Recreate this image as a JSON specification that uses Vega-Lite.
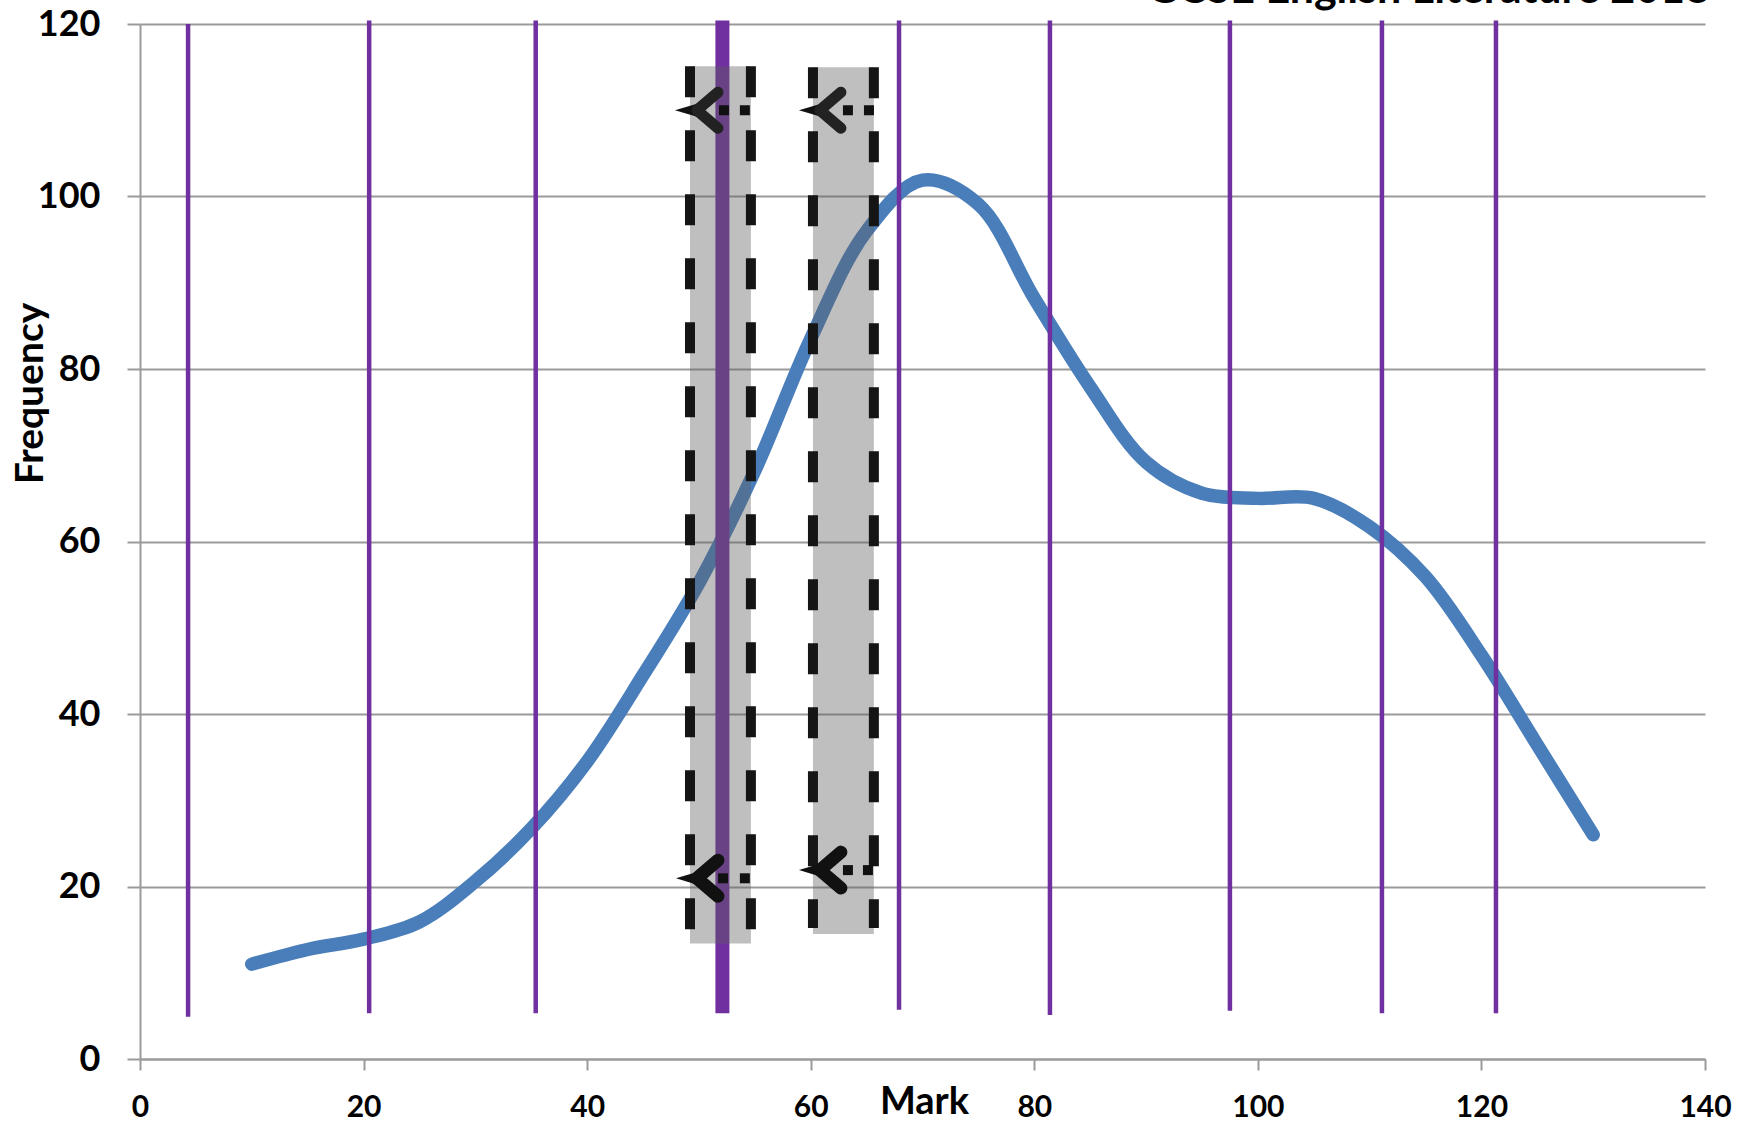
{
  "$schema": "https://vega.github.io/schema/vega-lite/v6.json",
  "width": 1565,
  "height": 1035,
  "autosize": {"type": "none"},
  "padding": {"left": 140, "top": 24, "right": 49, "bottom": 63},
  "background": "white",
  "title": {"text": "GCSE English Literature 2018", "anchor": "end", "frame": "group", "font": "Lato", "fontSize": 43, "fontWeight": "bold", "color": "#000000", "baseline": "alphabetic", "offset": 0, "dy": 40, "dx": 5},
  "config": {"view": {"stroke": null}},
  "datasets": {
    "curve": [
      {"mark": 10, "freq": 11.0},
      {"mark": 15, "freq": 12.7},
      {"mark": 20, "freq": 13.9},
      {"mark": 25, "freq": 15.9},
      {"mark": 30, "freq": 20.6},
      {"mark": 35, "freq": 26.7},
      {"mark": 40, "freq": 34.5},
      {"mark": 45, "freq": 44.5},
      {"mark": 50, "freq": 55.2},
      {"mark": 55, "freq": 68.2},
      {"mark": 60, "freq": 83.5},
      {"mark": 65, "freq": 96.0},
      {"mark": 70, "freq": 101.9},
      {"mark": 75, "freq": 99.1},
      {"mark": 80, "freq": 88.2},
      {"mark": 85, "freq": 77.9},
      {"mark": 90, "freq": 69.2},
      {"mark": 95, "freq": 65.6},
      {"mark": 100, "freq": 65.0},
      {"mark": 105, "freq": 65.0},
      {"mark": 110, "freq": 61.7},
      {"mark": 115, "freq": 55.9},
      {"mark": 120, "freq": 46.8},
      {"mark": 125, "freq": 36.4},
      {"mark": 130, "freq": 26.0}
    ],
    "lines": [
      {"x": 4.3, "y1": 4.9, "y2": 120.0, "kind": "thin"},
      {"x": 20.5, "y1": 5.3, "y2": 120.4, "kind": "thin"},
      {"x": 35.4, "y1": 5.3, "y2": 120.4, "kind": "thin"},
      {"x": 52.1, "y1": 5.3, "y2": 120.4, "kind": "thick"},
      {"x": 67.9, "y1": 5.7, "y2": 120.4, "kind": "thin"},
      {"x": 81.4, "y1": 5.1, "y2": 120.4, "kind": "thin"},
      {"x": 97.5, "y1": 5.6, "y2": 120.4, "kind": "thin"},
      {"x": 111.1, "y1": 5.3, "y2": 120.4, "kind": "thin"},
      {"x": 121.3, "y1": 5.3, "y2": 120.4, "kind": "thin"}
    ],
    "bands": [
      {"x1": 49.2, "x2": 54.65, "top": 115.1, "bottom": 13.4, "dashBottom": 14.8},
      {"x1": 60.2, "x2": 65.65, "top": 115.0, "bottom": 14.5, "dashBottom": 15.2}
    ],
    "arrows": [
      {"pos": "top", "tri": 48.84, "apex": 49.82, "d1": 52.24, "d2": 54.11, "y": 110.0},
      {"pos": "top", "tri": 59.93, "apex": 60.82, "d1": 63.33, "d2": 65.21, "y": 110.0},
      {"pos": "bottom", "tri": 48.93, "apex": 49.82, "d1": 52.15, "d2": 54.11, "y": 20.95},
      {"pos": "bottom", "tri": 59.93, "apex": 60.82, "d1": 63.33, "d2": 65.12, "y": 21.9}
    ]
  },
  "layer": [
    {
      "data": {"name": "curve"},
      "mark": {"type": "line", "interpolate": "catmull-rom", "color": "#4A7EBB", "strokeWidth": 13.5, "strokeCap": "round", "strokeJoin": "round"},
      "encoding": {
        "x": {"field": "mark", "type": "quantitative", "scale": {"domain": [0, 140], "nice": false, "zero": true},
          "axis": {"values": [0, 20, 40, 60, 80, 100, 120, 140], "title": "Mark", "grid": false, "domainColor": "#9a9a9a", "domainWidth": 2, "tickColor": "#9a9a9a", "tickWidth": 2, "tickSize": 11,
            "labelFont": "Lato", "labelFontSize": 30, "labelFontWeight": "bold", "labelColor": "#000000", "labelPadding": 22, "labelFlush": false,
            "titleFont": "Lato", "titleFontSize": 38, "titleFontWeight": "bold", "titleColor": "#000000", "titleX": 784, "titleY": 54, "titleAlign": "center", "titleBaseline": "alphabetic"}},
        "y": {"field": "freq", "type": "quantitative", "scale": {"domain": [0, 120], "nice": false},
          "axis": {"values": [0, 20, 40, 60, 80, 100, 120], "title": "Frequency", "grid": true, "gridColor": "#9a9a9a", "gridWidth": 2, "domainColor": "#9a9a9a", "domainWidth": 2, "tickColor": "#9a9a9a", "tickWidth": 2, "tickSize": 13,
            "labelFont": "Lato", "labelFontSize": 36, "labelFontWeight": "bold", "labelColor": "#000000", "labelPadding": 27, "labelFlush": false,
            "titleFont": "Lato", "titleFontSize": 39, "titleFontWeight": "bold", "titleColor": "#000000", "titleX": -110, "titleY": 369, "titleAlign": "center", "titleBaseline": "middle", "titleAngle": 270}}
      }
    },
    {
      "data": {"name": "lines"},
      "transform": [{"filter": "datum.kind == 'thin'"}],
      "mark": {"type": "rule", "color": "#7030A0", "strokeWidth": 4.5},
      "encoding": {
        "x": {"field": "x", "type": "quantitative"},
        "y": {"field": "y1", "type": "quantitative"},
        "y2": {"field": "y2"}
      }
    },
    {
      "data": {"name": "lines"},
      "transform": [{"filter": "datum.kind == 'thick'"}],
      "mark": {"type": "rule", "color": "#7030A0", "strokeWidth": 14},
      "encoding": {
        "x": {"field": "x", "type": "quantitative"},
        "y": {"field": "y1", "type": "quantitative"},
        "y2": {"field": "y2"}
      }
    },
    {
      "data": {"name": "bands"},
      "mark": {"type": "rect", "color": "#5f5f5f", "opacity": 0.4},
      "encoding": {
        "x": {"field": "x1", "type": "quantitative"},
        "x2": {"field": "x2"},
        "y": {"field": "top", "type": "quantitative"},
        "y2": {"field": "bottom"}
      }
    },
    {
      "data": {"name": "bands"},
      "mark": {"type": "rule", "color": "#151515", "strokeWidth": 10, "strokeDash": [31, 33]},
      "encoding": {
        "x": {"field": "x1", "type": "quantitative"},
        "y": {"field": "top", "type": "quantitative"},
        "y2": {"field": "dashBottom"}
      }
    },
    {
      "data": {"name": "bands"},
      "mark": {"type": "rule", "color": "#151515", "strokeWidth": 10, "strokeDash": [31, 33]},
      "encoding": {
        "x": {"field": "x2", "type": "quantitative"},
        "y": {"field": "top", "type": "quantitative"},
        "y2": {"field": "dashBottom"}
      }
    },
    {
      "data": {"name": "arrows"},
      "mark": {"type": "point", "shape": "M-1,0L1,-0.6L1,0.6Z", "filled": true, "color": "#111111", "size": 484, "opacity": 1},
      "encoding": {
        "x": {"field": "tri", "type": "quantitative"},
        "y": {"field": "y", "type": "quantitative"}
      }
    },
    {
      "data": {"name": "arrows"},
      "transform": [{"filter": "datum.pos == 'top'"}],
      "mark": {"type": "point", "shape": "M1.17,-1L0,0L1.17,1", "filled": false, "fill": null, "stroke": "#222222", "strokeWidth": 11, "strokeCap": "round", "strokeJoin": "round", "size": 1296, "opacity": 1},
      "encoding": {
        "x": {"field": "apex", "type": "quantitative"},
        "y": {"field": "y", "type": "quantitative"}
      }
    },
    {
      "data": {"name": "arrows"},
      "transform": [{"filter": "datum.pos == 'bottom'"}],
      "mark": {"type": "point", "shape": "M1.17,-1L0,0L1.17,1", "filled": false, "fill": null, "stroke": "#111111", "strokeWidth": 13, "strokeCap": "round", "strokeJoin": "round", "size": 1296, "opacity": 1},
      "encoding": {
        "x": {"field": "apex", "type": "quantitative"},
        "y": {"field": "y", "type": "quantitative"}
      }
    },
    {
      "data": {"name": "arrows"},
      "mark": {"type": "square", "color": "#111111", "size": 100, "opacity": 1},
      "encoding": {
        "x": {"field": "d1", "type": "quantitative"},
        "y": {"field": "y", "type": "quantitative"}
      }
    },
    {
      "data": {"name": "arrows"},
      "mark": {"type": "square", "color": "#111111", "size": 100, "opacity": 1},
      "encoding": {
        "x": {"field": "d2", "type": "quantitative"},
        "y": {"field": "y", "type": "quantitative"}
      }
    }
  ]
}
